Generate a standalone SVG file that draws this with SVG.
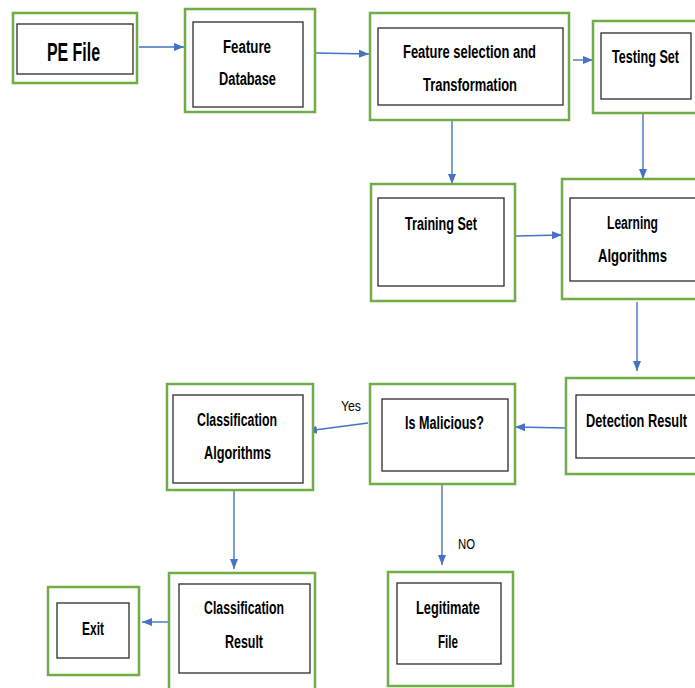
<svg xmlns="http://www.w3.org/2000/svg" width="695" height="688" viewBox="0 0 695 688">
<style>
.outer{fill:#fff;stroke:#70AD47;stroke-width:2.5}
.inner{fill:#fff;stroke:#2b2b2b;stroke-width:1.3}
.t{font-family:"Liberation Sans",Arial,sans-serif;font-weight:bold;font-size:17.5px;fill:#000}
.lbl{font-family:"Liberation Sans",Arial,sans-serif;font-size:14px;fill:#000}
.c{stroke:#4472C4;stroke-width:1.4;fill:none;marker-end:url(#ah)}
</style>
<defs>
<marker id="ah" markerUnits="userSpaceOnUse" markerWidth="10" markerHeight="10" viewBox="0 0 10 10" refX="10" refY="5" orient="auto">
<path d="M0,1 L10,5 L0,9 Z" fill="#4472C4"/>
</marker>
</defs>
<rect width="695" height="688" fill="#fff"/>
<g id="connectors">
<line class="c" x1="139" y1="47" x2="184" y2="47"/>
<line class="c" x1="316" y1="53" x2="369" y2="54"/>
<line class="c" x1="573" y1="60" x2="593" y2="60"/>
<line class="c" x1="452" y1="121" x2="452" y2="184"/>
<line class="c" x1="643" y1="114" x2="643" y2="179"/>
<line class="c" x1="516" y1="236" x2="562" y2="235"/>
<line class="c" x1="637" y1="302" x2="637" y2="371"/>
<line class="c" x1="566" y1="428" x2="515" y2="427"/>
<line class="c" x1="368" y1="423" x2="307" y2="431"/>
<line class="c" x1="234" y1="491" x2="234" y2="569"/>
<line class="c" x1="442" y1="485" x2="442" y2="565"/>
<line class="c" x1="169" y1="622" x2="142" y2="622"/>
<text class="lbl" x="341" y="411" textLength="20" lengthAdjust="spacingAndGlyphs">Yes</text>
<text class="lbl" x="458" y="549" textLength="17" lengthAdjust="spacingAndGlyphs">NO</text>
</g>
<g id="pe-file">
<rect class="outer" x="13" y="13" width="124" height="70"/>
<rect class="inner" x="17" y="24" width="116" height="50"/>
<text class="t" x="47" y="61" style="font-size:26px" textLength="53" lengthAdjust="spacingAndGlyphs">PE File</text>
</g>
<g id="feature-database">
<rect class="outer" x="185" y="9" width="130" height="103"/>
<rect class="inner" x="193" y="22" width="110" height="85"/>
<text class="t" x="223" y="52.5" textLength="48" lengthAdjust="spacingAndGlyphs">Feature</text>
<text class="t" x="219" y="85" textLength="57" lengthAdjust="spacingAndGlyphs">Database</text>
</g>
<g id="feature-selection">
<rect class="outer" x="370" y="13" width="199" height="107"/>
<rect class="inner" x="378" y="28" width="185" height="77"/>
<text class="t" x="403" y="58" textLength="133" lengthAdjust="spacingAndGlyphs">Feature selection and</text>
<text class="t" x="423" y="91" textLength="94" lengthAdjust="spacingAndGlyphs">Transformation</text>
</g>
<g id="testing-set">
<rect class="outer" x="593" y="21" width="110" height="92"/>
<rect class="inner" x="601" y="33" width="90" height="66"/>
<text class="t" transform="translate(612,63) scale(0.71,1)" x="0" y="0" textLength="94.4" lengthAdjust="spacingAndGlyphs">Testing Set</text>
</g>
<g id="training-set">
<rect class="outer" x="371" y="184" width="144" height="117"/>
<rect class="inner" x="378" y="198" width="126" height="88"/>
<text class="t" x="405" y="229.5" textLength="72" lengthAdjust="spacingAndGlyphs">Training Set</text>
</g>
<g id="learning-algorithms">
<rect class="outer" x="562" y="179" width="140" height="120"/>
<rect class="inner" x="570" y="198" width="130" height="83"/>
<text class="t" x="607" y="229" textLength="51" lengthAdjust="spacingAndGlyphs">Learning</text>
<text class="t" x="598" y="262" textLength="69" lengthAdjust="spacingAndGlyphs">Algorithms</text>
</g>
<g id="detection-result">
<rect class="outer" x="566" y="378" width="136" height="96"/>
<rect class="inner" x="576" y="395" width="126" height="63"/>
<text class="t" transform="translate(586,426.5) scale(0.732,1)" x="0" y="0" textLength="138" lengthAdjust="spacingAndGlyphs">Detection Result</text>
</g>
<g id="is-malicious">
<rect class="outer" x="370" y="384" width="145" height="100"/>
<rect class="inner" x="382" y="399" width="126" height="72"/>
<text class="t" x="405" y="429" textLength="79" lengthAdjust="spacingAndGlyphs">Is Malicious?</text>
</g>
<g id="classification-algorithms">
<rect class="outer" x="167" y="384" width="146" height="106"/>
<rect class="inner" x="173" y="395" width="130" height="88"/>
<text class="t" x="197" y="426" textLength="80" lengthAdjust="spacingAndGlyphs">Classification</text>
<text class="t" x="204" y="459" textLength="67" lengthAdjust="spacingAndGlyphs">Algorithms</text>
</g>
<g id="classification-result">
<rect class="outer" x="169" y="573" width="146" height="130"/>
<rect class="inner" x="179" y="584" width="131" height="89"/>
<text class="t" x="204" y="614" textLength="80" lengthAdjust="spacingAndGlyphs">Classification</text>
<text class="t" x="225" y="648" textLength="38" lengthAdjust="spacingAndGlyphs">Result</text>
</g>
<g id="legitimate-file">
<rect class="outer" x="388" y="572" width="125" height="114"/>
<rect class="inner" x="397" y="583" width="104" height="81"/>
<text class="t" x="416" y="614" textLength="64" lengthAdjust="spacingAndGlyphs">Legitimate</text>
<text class="t" x="438" y="648" textLength="20" lengthAdjust="spacingAndGlyphs">File</text>
</g>
<g id="exit">
<rect class="outer" x="48" y="587" width="91" height="88"/>
<rect class="inner" x="57" y="603" width="72" height="55"/>
<text class="t" x="82" y="635" textLength="22" lengthAdjust="spacingAndGlyphs">Exit</text>
</g>
</svg>
